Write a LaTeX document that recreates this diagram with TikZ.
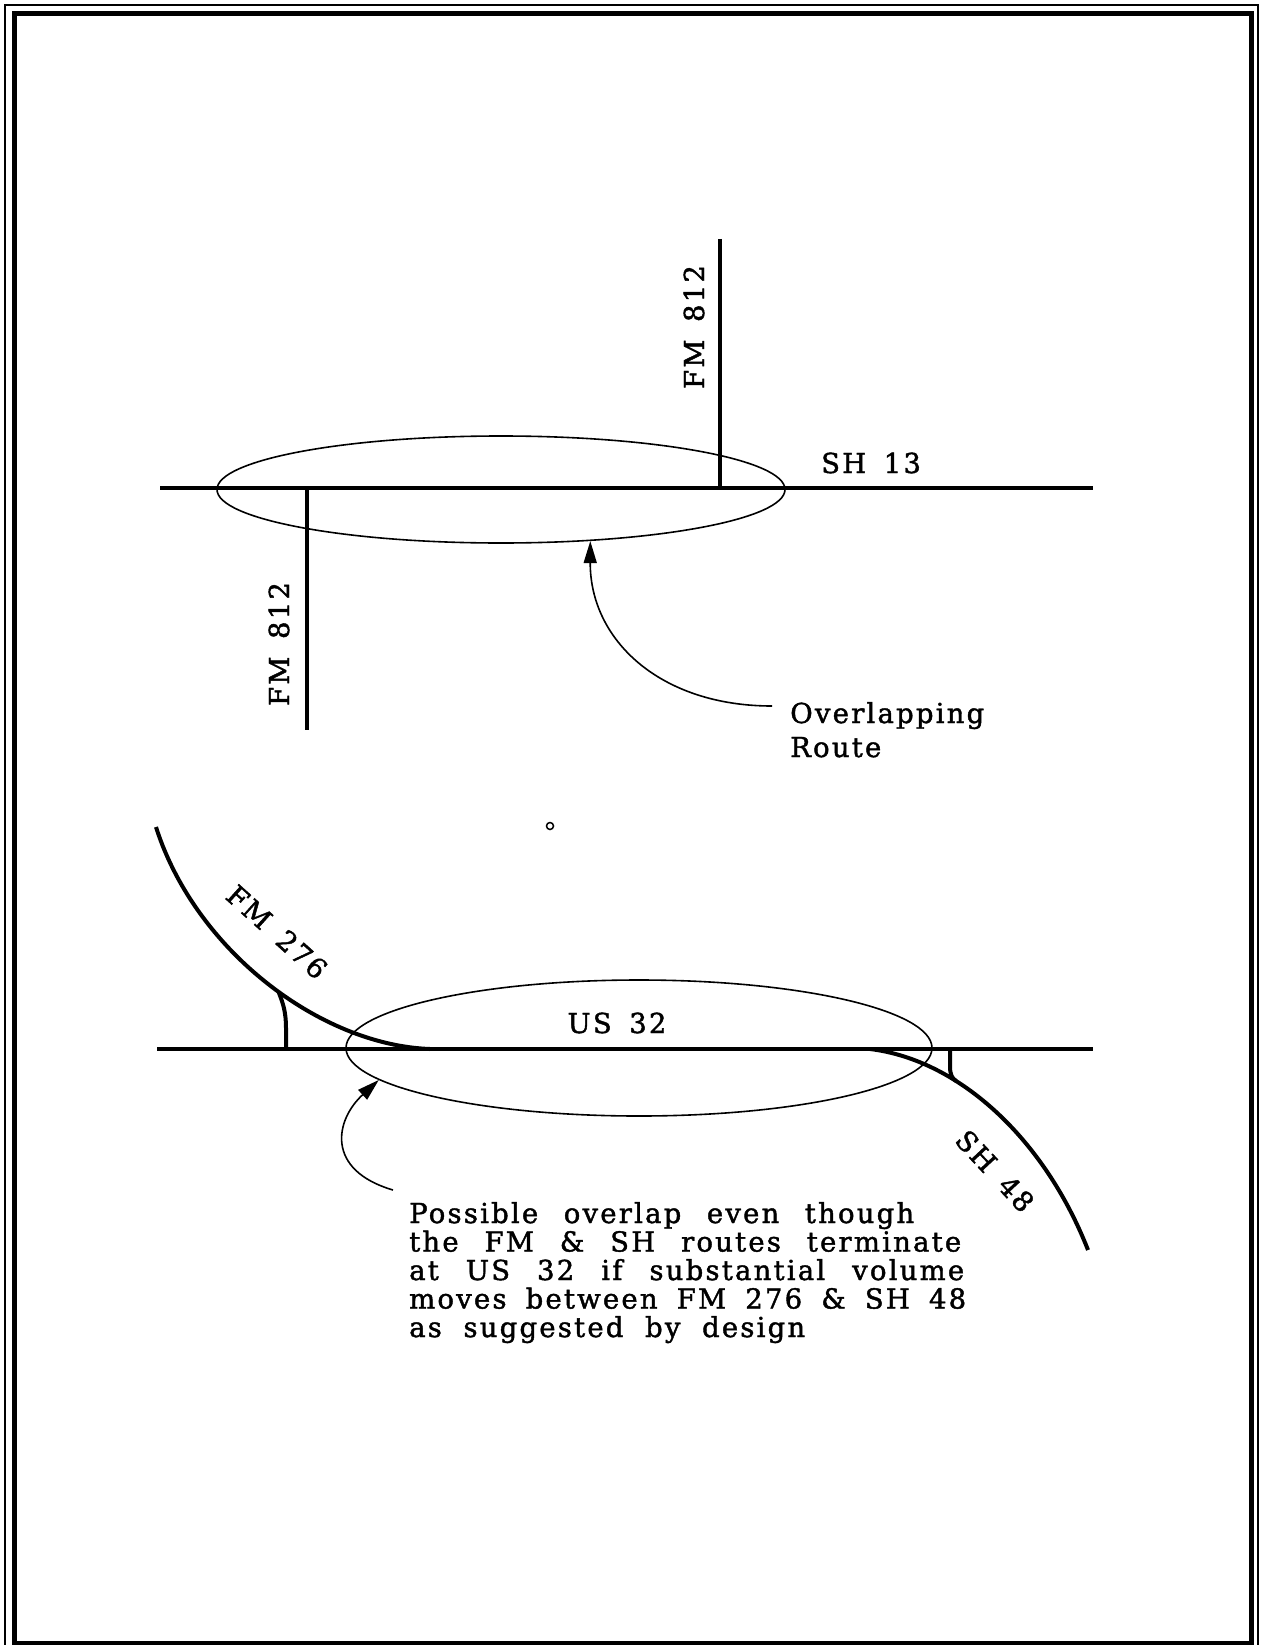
\documentclass[tikz,border=0pt]{standalone}
\usepackage{fontspec}
\setmainfont{DejaVu Serif}
\newfontfamily\lblfont[LetterSpace=8,FakeBold=1.5]{DejaVu Serif}
\newcommand\lblsetup{\lblfont\fontsize{27.5}{32}\selectfont\spaceskip 17.5pt\relax}
\newcommand\parsetup{\lblfont\fontsize{27.5}{32}\selectfont\spaceskip 17.5pt plus 40pt minus 8pt\relax}
\usetikzlibrary{arrows.meta,shapes.geometric}
\begin{document}
\begin{tikzpicture}[x=1pt,y=-1pt,
  road/.style={line width=4pt, line cap=butt},
  thinline/.style={line width=1.6pt},
  lbl/.style={font=\lblsetup, inner sep=0pt},
  para/.style={font=\parsetup, inner sep=0pt, anchor=base west},
  ptr/.style={thinline, -{Triangle[length=22pt,width=13pt]}},
  oval/.style={draw, thinline, ellipse, inner sep=0pt}
]
\useasboundingbox (0,0) rectangle (1262,1645);
\fill[white] (0,0) rectangle (1262,1645);
% frames
\draw[line width=1.5pt] (5,5) rectangle (1258,1665);
\draw[line width=5pt] (14,14) rectangle (1251,1643);

% ---- top diagram ----
\coordinate (sh13W) at (160,488);
\coordinate (sh13E) at (1093,488);
\coordinate (fmUtop) at (720,239);
\coordinate (fmUbot) at (720,488);
\coordinate (fmLtop) at (307,488);
\coordinate (fmLbot) at (307,730);
\draw[road] (sh13W) -- (sh13E);
\draw[road] (fmUtop) -- (fmUbot);
\draw[road] (fmLtop) -- (fmLbot);
\node[oval, minimum width=568pt, minimum height=107pt] (ov1) at (501,489.5) {};

\node[lbl, anchor=base west] (sh13) at (821,473) {SH 13};
\node[lbl, rotate=90] (fmU) at (694,327) {FM 812};
\node[lbl, rotate=90] (fmL) at (279,644) {FM 812};
\node[lbl, anchor=base west] (ovA) at (790,723) {Overlapping};
\node[lbl, anchor=base west] (ovB) at (790,757) {Route};
\coordinate (a1) at (772,706);
\draw[ptr] (a1) .. controls (660,706) and (590,640) .. (ov1.-30);

% ---- bottom diagram ----
\coordinate (us32W) at (157,1049);
\coordinate (us32E) at (1093,1049);
\draw[road] (us32W) -- (us32E);
\coordinate (fm276A) at (156,827);
\coordinate (fm276B) at (430,1049);
\draw[road] (fm276A) .. controls (195,950) and (320,1045) .. (fm276B) coordinate[pos=0.54] (j1);
\coordinate (r1b) at (286,1049);
\coordinate (r1m) at (286,1028);
\draw[road] (r1b) -- (r1m) .. controls (286,1012) and (283,1003) .. (j1);

\coordinate (sh48A) at (870,1049);
\coordinate (sh48B) at (1088,1250);
\draw[road] (sh48A) .. controls (960,1060) and (1045,1140) .. (sh48B) coordinate[pos=0.33] (j2);
\coordinate (r2b) at (950,1049);
\coordinate (r2m) at (950,1066);
\draw[road] (r2b) -- (r2m) .. controls (950,1075) and (952,1078) .. (j2);

\node[oval, minimum width=586pt, minimum height=136pt] (ov2) at (639,1048) {};

\node[lbl, anchor=base] (us32) at (617,1033) {US 32};
\node[lbl, rotate=-42] (fm276) at (277,932) {FM 276};
\node[lbl, rotate=-47] (sh48) at (995,1171) {SH 48};

\coordinate (a2) at (393,1190);
\draw[ptr] (a2) .. controls (325,1170) and (335,1120) .. (ov2.-173);

\node[para] (p1) at (409,1223) {\makebox[505pt][s]{Possible overlap even though}};
\node[para] (p2) at (409,1251.5) {\makebox[552pt][s]{the FM \& SH routes terminate}};
\node[para] (p3) at (409,1280) {\makebox[555pt][s]{at US 32 if substantial volume}};
\node[para] (p4) at (409,1308.5) {\makebox[557pt][s]{moves between FM 276 \& SH 48}};
\node[para] (p5) at (409,1337) {\makebox[396pt][s]{as suggested by design}};

% small speck
\draw[line width=1.5pt] (550,826) circle[radius=3.5pt];
\end{tikzpicture}
\end{document}
